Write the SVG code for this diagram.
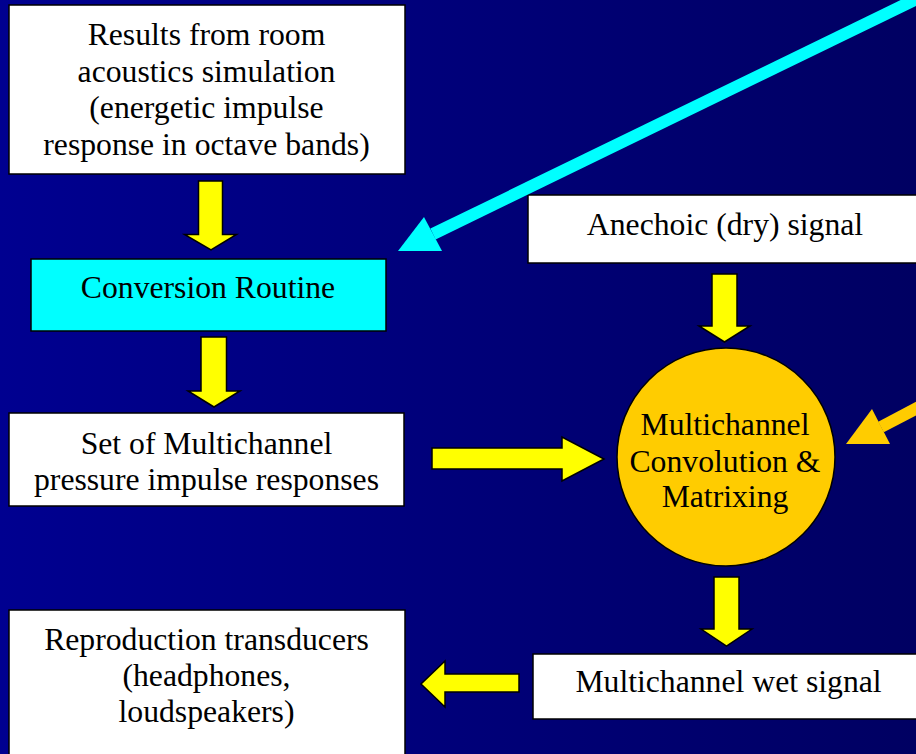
<svg xmlns="http://www.w3.org/2000/svg" width="916" height="754" viewBox="0 0 916 754">
<defs>
<linearGradient id="bg" x1="0" y1="0" x2="1" y2="0">
<stop offset="0" stop-color="#000090"/>
<stop offset="1" stop-color="#000062"/>
</linearGradient>
</defs>
<style>
.box{fill:#ffffff;stroke:#000000;stroke-width:1.5}
.cy{fill:#00ffff;stroke:#000000;stroke-width:1.5}
.yl{fill:#ffff00;stroke:#000000;stroke-width:1.5;stroke-linejoin:miter}
.t{font-family:"Liberation Serif","Times New Roman",serif;font-size:31.7px;fill:#000000;text-anchor:middle}
</style>
<rect x="0" y="0" width="916" height="754" fill="url(#bg)"/>
<g id="results">
<rect class="box" x="9" y="5" width="396" height="169"/>
<text class="t" x="206.5" y="45">Results from room</text>
<text class="t" x="206.5" y="82">acoustics simulation</text>
<text class="t" x="206.5" y="118">(energetic impulse</text>
<text class="t" x="206.5" y="155">response in octave bands)</text>
</g>
<g id="conversion">
<rect class="cy" x="31" y="259" width="355" height="72"/>
<text class="t" x="208" y="298">Conversion Routine</text>
</g>
<g id="set">
<rect class="box" x="9" y="413" width="395" height="93"/>
<text class="t" x="206.5" y="454">Set of Multichannel</text>
<text class="t" x="206.5" y="490">pressure impulse responses</text>
</g>
<g id="anechoic">
<rect class="box" x="528" y="195" width="400" height="68"/>
<text class="t" x="725" y="235">Anechoic (dry) signal</text>
</g>
<g id="convolution">
<circle cx="726" cy="457" r="109" fill="#ffcc00" stroke="#000000" stroke-width="1.5"/>
<text class="t" x="725" y="435">Multichannel</text>
<text class="t" x="725" y="472">Convolution &amp;</text>
<text class="t" x="725" y="507">Matrixing</text>
</g>
<g id="wet">
<rect class="box" x="533" y="654" width="400" height="65"/>
<text class="t" x="728.5" y="692">Multichannel wet signal</text>
</g>
<g id="reproduction">
<rect class="box" x="9" y="610" width="396" height="160"/>
<text class="t" x="206.5" y="650">Reproduction transducers</text>
<text class="t" x="206.5" y="686">(headphones,</text>
<text class="t" x="206.5" y="722">loudspeakers)</text>
</g>
<g id="connectors">
<polygon class="yl" points="198.5,181 222.5,181 222.5,234.5 236.5,234.5 211,250 184.5,234.5 198.5,234.5"/>
<polygon class="yl" points="201,337 226.5,337 226.5,391 240,391 214,407 188,391 201,391"/>
<polygon class="yl" points="712,274 737,274 737,326 750,326 724.5,342 699,326 712,326"/>
<polygon class="yl" points="714,577 739,577 739,629 752,629 726.5,646 701,629 714,629"/>
<polygon class="yl" points="432,448 562,448 562,437 604,459 562,481 562,469 432,469"/>
<polygon class="yl" points="519,674 445,674 445,661 421,684 445,707 445,692 519,692"/>
<line x1="433" y1="234" x2="937" y2="-11" stroke="#00ffff" stroke-width="12"/>
<polygon points="398,251 424,217 442,251" fill="#00ffff"/>
<line x1="881" y1="427" x2="960" y2="385.5" stroke="#ffcc00" stroke-width="12"/>
<polygon points="846,444 872,409 890,444" fill="#ffcc00"/>
</g>
</svg>
